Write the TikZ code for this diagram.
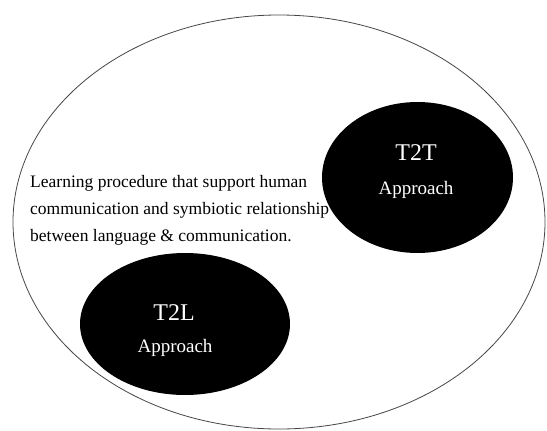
\documentclass[tikz,border=0pt]{standalone}
\usepackage{fontspec}
\setmainfont{Liberation Serif}
\usepackage{tikz}
\definecolor{rimgray}{RGB}{70,70,70}
\usetikzlibrary{shapes.geometric}

\begin{document}
\begin{tikzpicture}[x=1pt, y=-1pt]
  \useasboundingbox (0,0) rectangle (547,431);
  % Outer ellipse
  \node[ellipse, draw=rimgray, line width=0.8pt, minimum width=532pt, minimum height=414pt, inner sep=0pt] (whole) at (279,222) {};
  % Black approach ellipses
  \node[ellipse, fill=black, minimum width=191pt, minimum height=151pt, inner sep=0pt] (ttt) at (417.5,177.5) {};
  \node[ellipse, fill=black, minimum width=210pt, minimum height=142pt, inner sep=0pt] (ttl) at (185,324) {};
  % Approach labels
  \node[anchor=base, white, font=\fontsize{24}{24}\selectfont] (tttname) at (416,160) {T2T};
  \node[anchor=base, white, font=\fontsize{19}{19}\selectfont] (tttword) at (416,194) {Approach};
  \node[anchor=base, white, font=\fontsize{24}{24}\selectfont] (ttlname) at (174,320) {T2L};
  \node[anchor=base, white, font=\fontsize{19}{19}\selectfont] (ttlword) at (175,352) {Approach};
  % Description text
  \node[anchor=north west, align=left, inner sep=0pt, font=\fontsize{17.5}{27}\selectfont] (about) at (30,175)
    {Learning procedure that support human\\communication and symbiotic relationship\\between language \& communication.};
\end{tikzpicture}
\end{document}
